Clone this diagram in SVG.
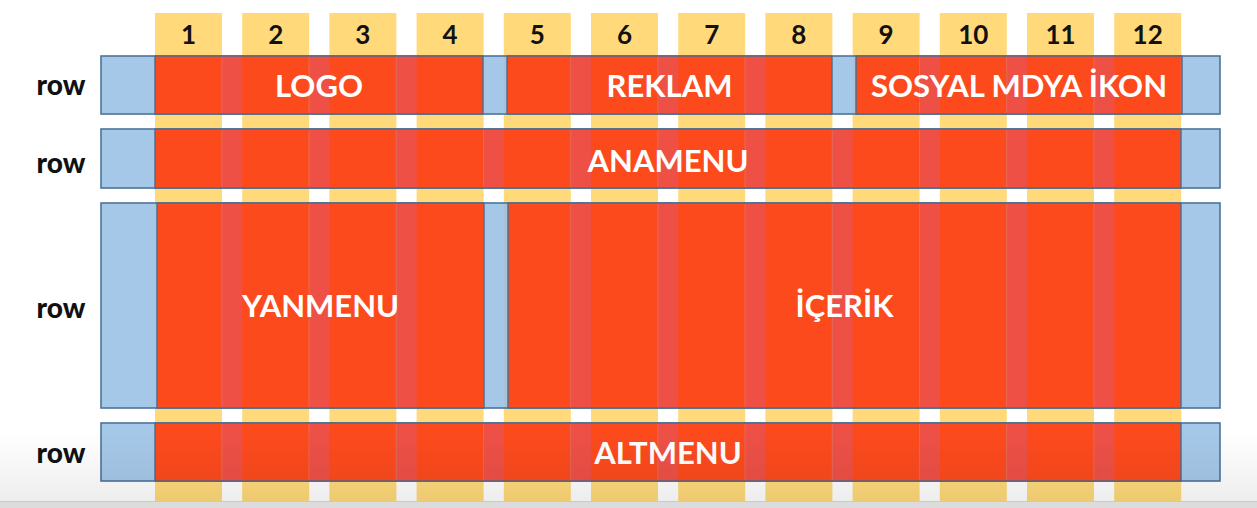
<svg xmlns="http://www.w3.org/2000/svg" width="1257" height="508" viewBox="0 0 1257 508">
  <defs>
    <pattern id="redcols" patternUnits="userSpaceOnUse" x="155" y="0" width="87.2" height="508">
      <rect x="0" y="0" width="67" height="508" fill="#FD4A1D"/>
      <rect x="67" y="0" width="20.2" height="508" fill="#EE5046"/>
    </pattern>
    <linearGradient id="shade" x1="0" y1="0" x2="0" y2="1">
      <stop offset="0" stop-color="#000" stop-opacity="0"/>
      <stop offset="1" stop-color="#000" stop-opacity="0.07"/>
    </linearGradient>
  </defs>
  <style>
    .col { fill: #FFD97A; }
    .row { fill: #9AC0E5; fill-opacity: 0.88; stroke: #4E7399; stroke-width: 1.6; }
    .block { fill: url(#redcols); stroke: #4E6A8C; stroke-width: 1.4; }
    .num { font-family: Lato, "Open Sans", sans-serif; font-weight: 700; font-size: 26px; fill: #111; text-anchor: middle; }
    .rowlbl { font-family: Lato, "Open Sans", sans-serif; font-weight: 900; font-size: 28px; fill: #111; text-anchor: middle; }
    .lbl { font-family: Lato, "Open Sans", sans-serif; font-weight: 700; font-size: 31px; fill: #FFFFFF; text-anchor: middle; }
  </style>
  <rect x="0" y="0" width="1257" height="508" fill="#FFFFFF"/>

  <g id="columns">
    <rect class="col" x="155" y="13" width="67" height="488"/>
    <rect class="col" x="242.2" y="13" width="67" height="488"/>
    <rect class="col" x="329.4" y="13" width="67" height="488"/>
    <rect class="col" x="416.6" y="13" width="67" height="488"/>
    <rect class="col" x="503.8" y="13" width="67" height="488"/>
    <rect class="col" x="591" y="13" width="67" height="488"/>
    <rect class="col" x="678.2" y="13" width="67" height="488"/>
    <rect class="col" x="765.4" y="13" width="67" height="488"/>
    <rect class="col" x="852.6" y="13" width="67" height="488"/>
    <rect class="col" x="939.8" y="13" width="67" height="488"/>
    <rect class="col" x="1027" y="13" width="67" height="488"/>
    <rect class="col" x="1114.2" y="13" width="67" height="488"/>
    <text class="num" x="188.5" y="44">1</text>
    <text class="num" x="275.7" y="44">2</text>
    <text class="num" x="362.9" y="44">3</text>
    <text class="num" x="450.1" y="44">4</text>
    <text class="num" x="537.3" y="44">5</text>
    <text class="num" x="624.5" y="44">6</text>
    <text class="num" x="711.7" y="44">7</text>
    <text class="num" x="798.9" y="44">8</text>
    <text class="num" x="886.1" y="44">9</text>
    <text class="num" x="973.3" y="44">10</text>
    <text class="num" x="1060.5" y="44">11</text>
    <text class="num" x="1147.7" y="44">12</text>
  </g>

  <g id="row1">
    <rect class="row" x="101" y="56" width="1119" height="58"/>
    <text class="rowlbl" x="61" y="95">row</text>
  </g>
  <g id="row2">
    <rect class="row" x="101" y="129" width="1119" height="59"/>
    <text class="rowlbl" x="61" y="173">row</text>
  </g>
  <g id="row3">
    <rect class="row" x="101" y="203" width="1119" height="205"/>
    <text class="rowlbl" x="61" y="318">row</text>
  </g>
  <g id="row4">
    <rect class="row" x="101" y="423" width="1119" height="58"/>
    <text class="rowlbl" x="61" y="463">row</text>
  </g>

  <g id="logo">
    <rect class="block" x="155" y="56" width="328" height="58"/>
    <text class="lbl" x="319" y="97">LOGO</text>
  </g>
  <g id="reklam">
    <rect class="block" x="507" y="56" width="325" height="58"/>
    <text class="lbl" x="669.5" y="97">REKLAM</text>
  </g>
  <g id="sosyal">
    <rect class="block" x="856" y="56" width="326" height="58"/>
    <text class="lbl" x="1019" y="97">SOSYAL MDYA İKON</text>
  </g>
  <g id="anamenu">
    <rect class="block" x="155" y="129" width="1026" height="59"/>
    <text class="lbl" x="668" y="172">ANAMENU</text>
  </g>
  <g id="yanmenu">
    <rect class="block" x="157" y="203" width="327" height="205"/>
    <text class="lbl" x="320.5" y="317">YANMENU</text>
  </g>
  <g id="icerik">
    <rect class="block" x="508" y="203" width="673" height="205"/>
    <text class="lbl" x="844.5" y="317">İÇERİK</text>
  </g>
  <g id="altmenu">
    <rect class="block" x="155" y="423" width="1026" height="58"/>
    <text class="lbl" x="668" y="464">ALTMENU</text>
  </g>

  <g id="connectors"></g>

  <rect x="0" y="430" width="1257" height="72" fill="url(#shade)"/>
  <rect x="0" y="501" width="1257" height="7" fill="#DCDCDC"/>
  <line x1="0" y1="501.5" x2="1257" y2="501.5" stroke="#CACACA" stroke-width="1"/>
</svg>
